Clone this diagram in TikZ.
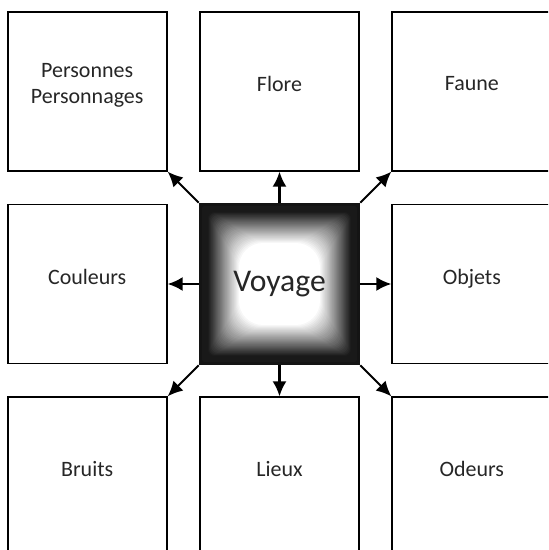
\documentclass[tikz,border=0pt]{standalone}
\usepackage{fontspec}
\setmainfont{Carlito}
\usetikzlibrary{positioning, arrows.meta}

\begin{document}
\begin{tikzpicture}[
    node distance=0.62cm,
    theme/.style={draw, rectangle, line width=1.1pt, minimum width=3.18cm, minimum height=3.18cm, align=center, inner sep=0pt, text depth=0.3cm, text=black!85, font=\fontsize{12.5}{15}\selectfont},
    hub/.style={rectangle, minimum width=3.22cm, minimum height=3.24cm, inner sep=0pt, text=black!85, font=\fontsize{18}{21}\selectfont,
        path picture={
            \fill[black!92] (path picture bounding box.south west) rectangle (path picture bounding box.north east);
            \foreach \i in {3,...,45}{
                \pgfmathtruncatemacro\w{max(10,min(100,(\i-5)*100/35))}
                \fill[white!\w!black, rounded corners=\i*0.012cm] ([shift={(\i*0.02,\i*0.02)}]path picture bounding box.south west) rectangle ([shift={(-\i*0.02,-\i*0.02)}]path picture bounding box.north east);
            }
        }},
    arrow/.style={-{Latex[length=0.3cm, width=0.28cm]}, line width=1.2pt}
]
    \clip (-5.59,-5.32) rectangle (5.37,5.68);

    % Nodes
    \node (voyage) [hub] at (0,0) {Voyage};
    \node (personnes) [theme, above left=0.62cm and 0.62cm of voyage] {Personnes\\Personnages};
    \node (flore) [theme, above=of voyage] {Flore};
    \node (faune) [theme, above right=0.62cm and 0.62cm of voyage] {Faune};
    \node (couleurs) [theme, left=of voyage] {Couleurs};
    \node (objets) [theme, right=of voyage] {Objets};
    \node (bruits) [theme, below left=0.62cm and 0.62cm of voyage] {Bruits};
    \node (lieux) [theme, below=of voyage] {Lieux};
    \node (odeurs) [theme, below right=0.62cm and 0.62cm of voyage] {Odeurs};

    % Arrows
    \draw [arrow] (voyage.north west) -- (personnes.south east);
    \draw [arrow] (voyage.north) -- (flore.south);
    \draw [arrow] (voyage.north east) -- (faune.south west);
    \draw [arrow] (voyage.west) -- (couleurs.east);
    \draw [arrow] (voyage.east) -- (objets.west);
    \draw [arrow] (voyage.south west) -- (bruits.north east);
    \draw [arrow] (voyage.south) -- (lieux.north);
    \draw [arrow] (voyage.south east) -- (odeurs.north west);
\end{tikzpicture}
\end{document}
